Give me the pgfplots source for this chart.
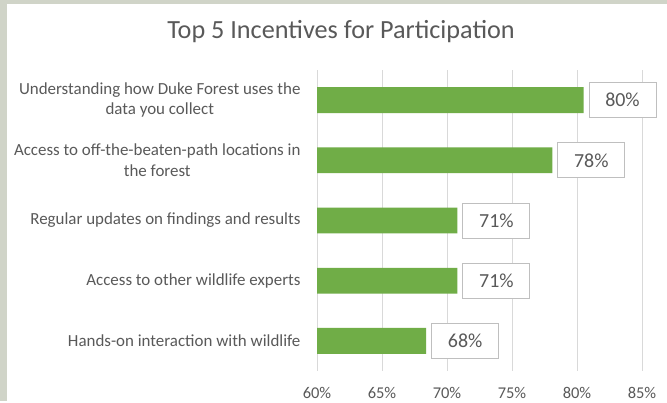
\documentclass[border=0pt]{standalone}
\usepackage{fontspec}
\setmainfont{Carlito}
\usepackage{pgfplots}
\usepackage{pgfplotstable}
\pgfplotsset{compat=1.18}
\definecolor{bargreen}{HTML}{70AD47}
\definecolor{gridgray}{HTML}{D9D9D9}
\definecolor{txtgray}{HTML}{595959}
\definecolor{boxgray}{HTML}{BFBFBF}
\definecolor{outerbg}{RGB}{208,212,200}
\pgfplotstableread[col sep=comma]{
pos,val,lab
1,80.5,80\%
2,78.1,78\%
3,70.8,71\%
4,70.8,71\%
5,68.4,68\%
}\datatable
\begin{document}
\begin{tikzpicture}[x=1bp,y=1bp]
\fill[outerbg] (0,0) rectangle (667,401);
\fill[white] (7,0) rectangle (667,397);
\node[text=txtgray,font=\fontsize{26.3}{31}\selectfont] at (341,369) {Top 5 Incentives for Participation};
\begin{axis}[
  at={(317bp,30bp)}, anchor=south west,
  width=325bp, height=301bp, scale only axis,
  xmin=60, xmax=85, ymin=0.5, ymax=5.5,
  y dir=reverse,
  xbar, bar width=0.43,
  axis line style={draw=none},
  major tick length=0pt,
  xtick={60,65,70,75,80,85},
  xticklabels={60\%,65\%,70\%,75\%,80\%,85\%},
  xmajorgrids, grid style={gridgray, line width=1bp},
  ytick={1,2,3,4,5},
  yticklabels={{Understanding how Duke Forest uses the\\data you collect},
               {Access to off-the-beaten-path locations in\\the forest},
               {Regular updates on findings and results},
               {Access to other wildlife experts},
               {Hands-on interaction with wildlife}},
  yticklabel style={align=center, text=txtgray, font=\fontsize{17}{20.5}\selectfont, xshift=-13bp},
  xticklabel style={text=txtgray, font=\fontsize{16.5}{20}\selectfont, yshift=-13bp},
  /pgf/number format/assume math mode=true,
  point meta=explicit symbolic,
  nodes near coords,
  nodes near coords style={anchor=west, draw=boxgray, line width=1bp, fill=white,
     inner sep=0pt, minimum width=67bp, minimum height=35bp, xshift=5bp,
     text=txtgray, font=\fontsize{20}{24}\selectfont},
  clip=false,
]
\addplot[fill=bargreen, draw=none] table[x=val, y=pos, meta=lab] {\datatable};
\end{axis}
\end{tikzpicture}
\end{document}
